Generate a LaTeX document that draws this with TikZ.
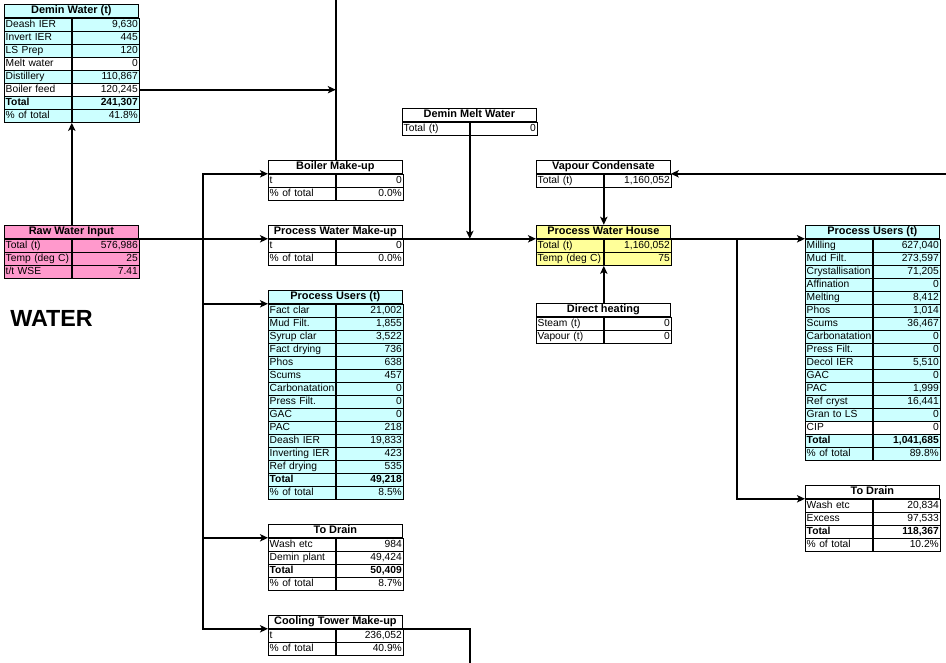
\documentclass[tikz,border=0pt]{standalone}
\usepackage{fontspec}
\setmainfont{Liberation Sans}
\usetikzlibrary{arrows.meta,positioning,fit,calc}
\definecolor{wcyan}{HTML}{CCFFFF}
\definecolor{wpink}{HTML}{FF99CC}
\definecolor{wyellow}{HTML}{FFFF99}
\tikzset{
  wt/cell/.style={draw, line width=0.6pt, inner xsep=1pt, inner ysep=0pt, minimum height=9.75pt,
    text height=5.8pt, text depth=1.5pt, font=\fontsize{7.7}{9}\selectfont, anchor=north west},
  wt/title/.style={wt/cell, minimum width=100.5pt, font=\fontsize{8.2}{9}\selectfont\bfseries},
  wt/label/.style={wt/cell, text width=48.25pt, align=left},
  wt/value/.style={wt/cell, text width=48.25pt, align=right},
  wt/row-n/.style={},
  wt/row-w/.style={fill=white},
  wt/row-b/.style={font=\fontsize{7.7}{9}\selectfont\bfseries},
  wt/pipe/.style={line width=1.5pt},
  wt/flow/.style={wt/pipe, -{Stealth[length=6pt,width=5.5pt,inset=1.5pt]}},
  wt/heading/.style={font=\fontsize{17.5}{19}\selectfont\bfseries, inner sep=0pt, anchor=base west}
}
% table: name, top left corner, fill, title, rows label/value/kind
\newcommand{\wtab}[5]{%
  \node[wt/title, fill=#3] (#1-t) at (#2) {#4};
  \foreach \lb/\vl/\rs [count=\i] in {#5} {
    \node[wt/label, fill=#3, wt/row-\rs] (#1-l\i) at ($(#1-t.south west)+(0,{13*(\i-1)})$) {\mbox{\lb}};
    \node[wt/value, fill=#3, wt/row-\rs] (#1-v\i) at (#1-l\i.north east) {\vl};
    \node[fit=(#1-t)(#1-v\i), inner sep=0pt] (#1) {};
  }
}

\begin{document}
\begin{tikzpicture}[x=0.75pt, y=-0.75pt]
  \useasboundingbox (0,0) rectangle (946,663);

  \wtab{demin}{4,4}{wcyan}{Demin Water (t)}{Deash IER/{9,630}/n, Invert IER/445/n, LS Prep/120/n,
    Melt water/0/w, Distillery/{110,867}/n, Boiler feed/{120,245}/w, Total/{241,307}/b, \% of total/41.8\%/n}
  \wtab{raw}{4,225}{wpink}{Raw Water Input}{Total (t)/{576,986}/n, Temp (deg C)/25/n, {t/t WSE}/7.41/n}
  \node[wt/heading] (title) at (10,326) {WATER};

  \wtab{dmelt}{402,108}{white}{Demin Melt Water}{Total (t)/0/n}
  \wtab{boiler}{268,160}{white}{Boiler Make-up}{t/0/n, \% of total/0.0\%/n}
  \wtab{pwmake}{268,225}{white}{Process Water Make-up}{t/0/n, \% of total/0.0\%/n}
  \wtab{pusers1}{268,290}{wcyan}{Process Users (t)}{Fact clar/{21,002}/n, Mud Filt./{1,855}/n,
    Syrup clar/{3,522}/n, Fact drying/736/n, Phos/638/n, Scums/457/n, Carbonatation/0/n,
    Press Filt./0/n, GAC/0/n, PAC/218/n, Deash IER/{19,833}/n, Inverting IER/423/n,
    Ref drying/535/n, Total/{49,218}/b, \% of total/8.5\%/n}
  \wtab{drain1}{268,524}{white}{To Drain}{Wash etc/984/n, Demin plant/{49,424}/n,
    Total/{50,409}/b, \% of total/8.7\%/n}
  \wtab{cool}{268,615}{white}{Cooling Tower Make-up}{t/{236,052}/n, \% of total/40.9\%/n}

  \wtab{vap}{536,160}{white}{Vapour Condensate}{Total (t)/{1,160,052}/n}
  \wtab{pwh}{536,225}{wyellow}{Process Water House}{Total (t)/{1,160,052}/n, Temp (deg C)/75/n}
  \wtab{dh}{536,303}{white}{Direct heating}{Steam (t)/0/n, Vapour (t)/0/n}

  \wtab{pusers2}{805,225}{wcyan}{Process Users (t)}{Milling/{627,040}/n, Mud Filt./{273,597}/n,
    Crystallisation/{71,205}/n, Affination/0/n, Melting/{8,412}/n, Phos/{1,014}/n,
    Scums/{36,467}/n, Carbonatation/0/n, Press Filt./0/n, Decol IER/{5,510}/n, GAC/0/n,
    PAC/{1,999}/n, Ref cryst/{16,441}/n, Gran to LS/0/n, CIP/0/w, Total/{1,041,685}/b,
    \% of total/89.8\%/n}
  \wtab{drain2}{805,485}{white}{To Drain}{Wash etc/{20,834}/n, Excess/{97,533}/n,
    Total/{118,367}/b, \% of total/10.2\%/n}

  % raw water side
  \coordinate (split) at ($(raw-t.south east)!0.5!(pwmake-t.south west)$);
  \draw[wt/flow] (raw.north) -- (demin.south);
  \draw[wt/flow] (raw-t.south east) -- (pwmake-t.south west);
  \draw[wt/flow] (split) |- (boiler-t.south west);
  \draw[wt/flow] (split) |- (pusers1-t.south west);
  \draw[wt/flow] (split) |- (drain1-t.south west);
  \draw[wt/flow] (split) |- (cool-t.south west);
  \coordinate (boilertop) at (boiler.north |- 0,0);
  \coordinate (feedin) at (demin-v6.east -| boiler.north);
  \draw[wt/pipe] (boilertop) -- (boiler.north);
  \draw[wt/flow] (demin-v6.east) -- (feedin);
  \coordinate (coolout) at (cool-t.south east -| dmelt.south);
  \draw[wt/pipe] (cool-t.south east) -| (coolout |- 0,663);

  % process water house
  \coordinate (meltin) at (dmelt.south |- pwmake-t.south east);
  \coordinate (vapin) at (vap-t.south east -| 946,0);
  \coordinate (split2) at (737,238);
  \draw[wt/flow] (dmelt.south) -- (meltin);
  \draw[wt/flow] (pwmake-t.south east) -- (pwh-t.south west);
  \draw[wt/flow] (vapin) -- (vap-t.south east);
  \draw[wt/flow] (vap.south) -- (pwh.north);
  \draw[wt/flow] (dh.north) -- (pwh.south);
  \draw[wt/flow] (pwh-t.south east) -- (pusers2-t.south west);
  \draw[wt/flow] (split2) |- (drain2-t.south west);
\end{tikzpicture}
\end{document}
